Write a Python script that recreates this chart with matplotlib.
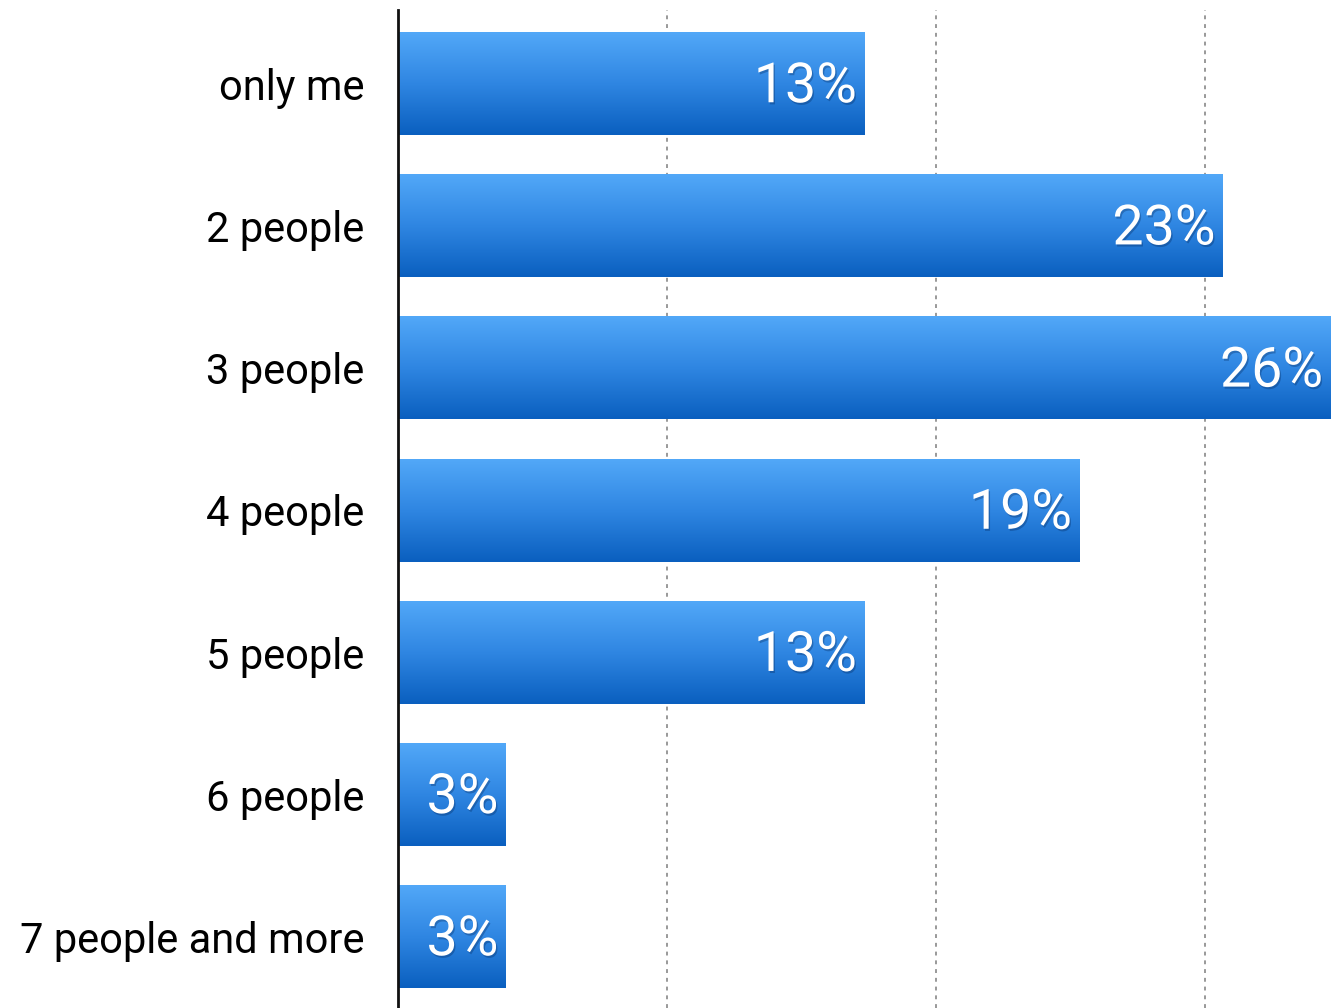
import matplotlib

matplotlib.use("Agg")
import matplotlib.pyplot as plt
import matplotlib.patheffects as pe
import numpy as np
from matplotlib.colors import LinearSegmentedColormap

categories = ["only me", "2 people", "3 people", "4 people", "5 people", "6 people", "7 people and more"]
shares = [13, 23, 26, 19, 13, 3, 3]
grid_at = [7.5, 15, 22.5]

bar_height = 0.72
# light on top, deeper blue at the bottom of each bar
blue = LinearSegmentedColormap.from_list("bar_blue", ["#52A8F8", "#2F86E2", "#0A5FBF"])

fig = plt.figure(figsize=(13.33, 10.08), dpi=100)
ax = fig.add_axes([398 / 1333, 0.0, 935 / 1333, 1 - 10 / 1008])

for x in grid_at:
    ax.axvline(x, color="#999999", lw=1.4, ls=(0, (2, 2.5)), zorder=0)

grad = np.linspace(0, 1, 256).reshape(-1, 1)
for i, (cat, val) in enumerate(zip(categories, shares)):
    top, bottom = i - bar_height / 2, i + bar_height / 2
    ax.imshow(grad, cmap=blue, aspect="auto", extent=(0, val, bottom, top),
              origin="upper", interpolation="bicubic", zorder=2)
    ax.text(val - 0.2, i + 0.02, f"{val}%", ha="right", va="center",
            color="white", fontsize=40, family=["Roboto", "DejaVu Sans"],
            zorder=3,
            path_effects=[pe.withSimplePatchShadow(offset=(1, -1.5), shadow_rgbFace="#002050", alpha=0.3)])

ax.set_ylim(len(categories) - 0.5, -0.52)
ax.set_xlim(0, 26.08)

ax.set_yticks(range(len(categories)))
ax.set_yticklabels(categories, fontsize=30, family=["Roboto", "DejaVu Sans"])
ax.tick_params(axis="y", length=0, pad=24)
ax.set_xticks([])

for side in ["top", "right", "bottom"]:
    ax.spines[side].set_visible(False)
ax.spines["left"].set_linewidth(2)
ax.spines["left"].set_color("#111111")
ax.spines["left"].set_zorder(4)

fig.savefig("out.png", dpi=100)
plt.close(fig)
